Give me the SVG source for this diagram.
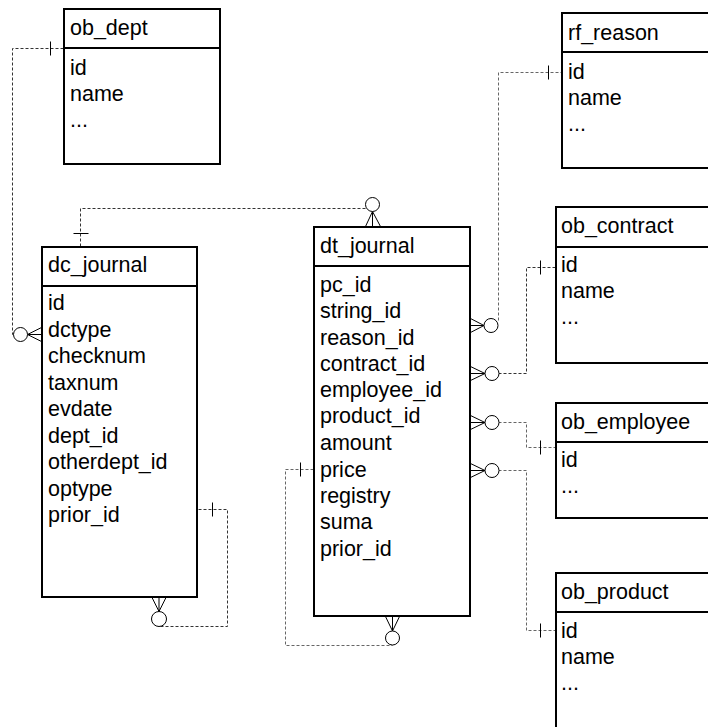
<svg xmlns="http://www.w3.org/2000/svg" width="708" height="727" viewBox="0 0 708 727">
<style>
.box{fill:#fff;stroke:#000;stroke-width:2}
.hd{stroke:#000;stroke-width:2}
.t{font-family:"Liberation Sans",Arial,sans-serif;font-size:21.5px;fill:#000}
.dash{fill:none;stroke:#333;stroke-width:1;stroke-dasharray:3,2}
.dashl{fill:none;stroke:#666;stroke-width:1;stroke-dasharray:3,2}
.sym{fill:none;stroke:#000;stroke-width:1}
.circ{fill:#fff;stroke:#000;stroke-width:1}
</style>
<rect width="708" height="727" fill="#fff"/>
<g id="connectors" transform="translate(0.5,0.5)">
  <path class="dash" d="M63,48 H12 V334 H13"/>
  <line class="sym" x1="50" y1="41" x2="50" y2="55"/>
  <path class="sym" d="M41,327 L27,334 L41,341 M27,334 H41"/>
  <circle class="circ" cx="20" cy="334" r="7"/>
  <path class="dash" d="M80,246 V208 H365"/>
  <line class="sym" x1="73" y1="233" x2="88" y2="233"/>
  <path class="sym" d="M365,226 L372,211 L380,226 M372,211 V226"/>
  <circle class="circ" cx="372" cy="204" r="7"/>
  <path class="dashl" d="M498,320 V72 H561"/>
  <line class="sym" x1="548" y1="65" x2="548" y2="79"/>
  <path class="sym" d="M470,318 L483.5,325 L470,332 M470,325 H483.5"/>
  <circle class="circ" cx="490.5" cy="325" r="7"/>
  <path class="dash" d="M498,373 H526 V267 H555"/>
  <line class="sym" x1="540" y1="260" x2="540" y2="274"/>
  <path class="sym" d="M470,366 L484.5,373 L470,380 M470,373 H484.5"/>
  <circle class="circ" cx="491.5" cy="373" r="7"/>
  <path class="dashl" d="M498,422 H526 V447 H555"/>
  <line class="sym" x1="540" y1="440" x2="540" y2="454"/>
  <path class="sym" d="M470,415 L484.5,422 L470,429 M470,422 H484.5"/>
  <circle class="circ" cx="491.5" cy="422" r="7"/>
  <path class="dashl" d="M498,470 H526 V630 H555"/>
  <line class="sym" x1="540" y1="623" x2="540" y2="637"/>
  <path class="sym" d="M470,463 L484.5,470 L470,477 M470,470 H484.5"/>
  <circle class="circ" cx="491.5" cy="470" r="7"/>
  <path class="dashl" d="M313,469 H285 V645 H392"/>
  <line class="sym" x1="300" y1="462" x2="300" y2="476"/>
  <path class="sym" d="M385,616 L392,630.5 L399,616 M392,616 V630.5"/>
  <circle class="circ" cx="392" cy="637.5" r="7"/>
  <path class="dash" d="M198,509 H227 V626 H158"/>
  <line class="sym" x1="212" y1="502" x2="212" y2="516"/>
  <path class="sym" d="M151.5,597 L158.5,611 L165.5,597 M158.5,597 V611"/>
  <circle class="circ" cx="158.5" cy="618.5" r="7.5"/>
</g>
<g id="ob_dept">
  <rect class="box" x="64" y="9" width="156" height="155"/>
  <line class="hd" x1="64" y1="48" x2="220" y2="48"/>
  <text class="t" x="70" y="35">ob_dept</text>
  <text class="t" x="70" y="75">id</text>
  <text class="t" x="70" y="101">name</text>
  <text class="t" x="70" y="127">...</text>
</g>
<g id="dc_journal">
  <rect class="box" x="42" y="247" width="155" height="350"/>
  <line class="hd" x1="42" y1="286" x2="197" y2="286"/>
  <text class="t" x="48" y="272">dc_journal</text>
  <text class="t" x="48" y="310">id</text>
  <text class="t" x="48" y="336.5">dctype</text>
  <text class="t" x="48" y="363">checknum</text>
  <text class="t" x="48" y="389.5">taxnum</text>
  <text class="t" x="48" y="416">evdate</text>
  <text class="t" x="48" y="442.5">dept_id</text>
  <text class="t" x="48" y="469">otherdept_id</text>
  <text class="t" x="48" y="495.5">optype</text>
  <text class="t" x="48" y="522">prior_id</text>
</g>
<g id="dt_journal">
  <rect class="box" x="314" y="227" width="156" height="389"/>
  <line class="hd" x1="314" y1="266" x2="470" y2="266"/>
  <text class="t" x="320" y="253">dt_journal</text>
  <text class="t" x="320" y="292">pc_id</text>
  <text class="t" x="320" y="318">string_id</text>
  <text class="t" x="320" y="344.5">reason_id</text>
  <text class="t" x="320" y="370.5">contract_id</text>
  <text class="t" x="320" y="397">employee_id</text>
  <text class="t" x="320" y="423">product_id</text>
  <text class="t" x="320" y="450">amount</text>
  <text class="t" x="320" y="476.5">price</text>
  <text class="t" x="320" y="503">registry</text>
  <text class="t" x="320" y="529">suma</text>
  <text class="t" x="320" y="555.5">prior_id</text>
</g>
<g id="rf_reason">
  <rect class="box" x="562" y="13" width="160" height="155"/>
  <line class="hd" x1="562" y1="52" x2="722" y2="52"/>
  <text class="t" x="568" y="40">rf_reason</text>
  <text class="t" x="568" y="79">id</text>
  <text class="t" x="568" y="105">name</text>
  <text class="t" x="568" y="131">...</text>
</g>
<g id="ob_contract">
  <rect class="box" x="556" y="207" width="166" height="156"/>
  <line class="hd" x1="556" y1="247" x2="722" y2="247"/>
  <text class="t" x="561" y="233">ob_contract</text>
  <text class="t" x="561" y="272">id</text>
  <text class="t" x="561" y="298">name</text>
  <text class="t" x="561" y="324">...</text>
</g>
<g id="ob_employee">
  <rect class="box" x="556" y="403" width="166" height="115"/>
  <line class="hd" x1="556" y1="442" x2="722" y2="442"/>
  <text class="t" x="561" y="428.5">ob_employee</text>
  <text class="t" x="561" y="467">id</text>
  <text class="t" x="561" y="493">...</text>
</g>
<g id="ob_product">
  <rect class="box" x="556" y="573" width="166" height="170"/>
  <line class="hd" x1="556" y1="612" x2="722" y2="612"/>
  <text class="t" x="561" y="599">ob_product</text>
  <text class="t" x="561" y="638">id</text>
  <text class="t" x="561" y="664">name</text>
  <text class="t" x="561" y="690">...</text>
</g>
</svg>
